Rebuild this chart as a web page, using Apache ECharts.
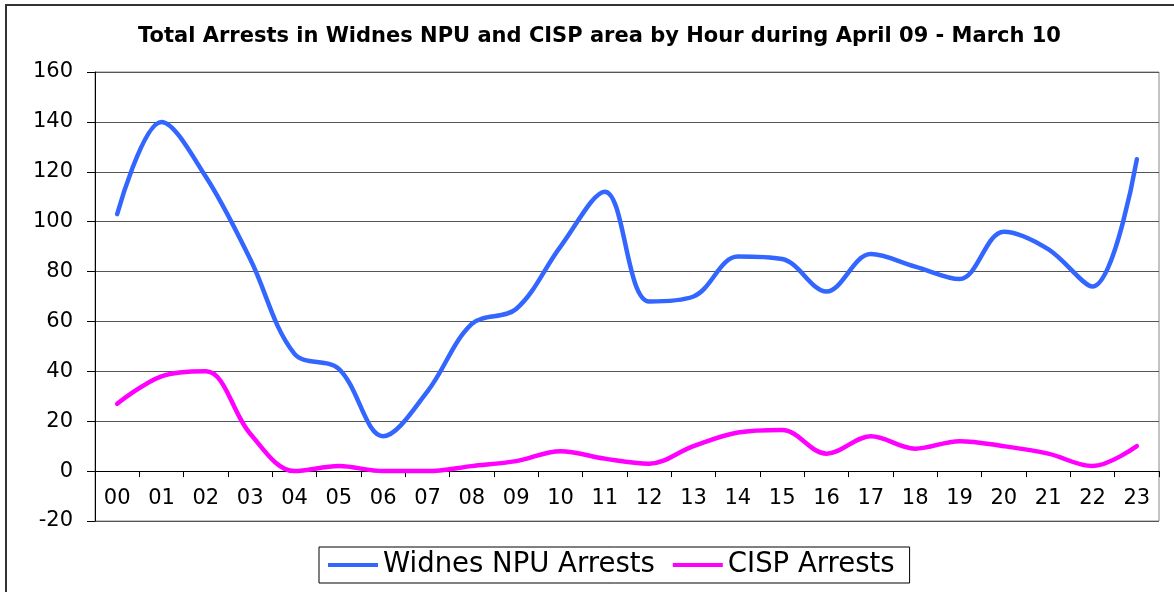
<!DOCTYPE html>
<html>
<head>
<meta charset="utf-8">
<script src="https://cdn.jsdelivr.net/npm/echarts@6/dist/echarts.min.js"></script>
<style>
  html, body { margin: 0; padding: 0; background: #fff; }
  #chart { width: 1174px; height: 592px; }
</style>
</head>
<body>
<div id="chart"></div>
<script>
// hours of the day
var hours = ['00', '01', '02', '03', '04', '05', '06', '07', '08', '09', '10', '11',
             '12', '13', '14', '15', '16', '17', '18', '19', '20', '21', '22', '23'];
// arrests per hour
var widnesArrests = [103, 140, 118, 85, 47, 41, 14, 32, 59, 65, 90, 112,
                     68, 70, 86, 85, 72, 87, 82, 77, 96, 89, 74, 125];
var cispArrests = [27, 38, 40, 15, 0, 2, 0, 0, 2, 4, 8, 5,
                   3, 10, 15.5, 16.5, 7, 14, 9, 12, 10, 7, 2, 10];
var seriesNames = ['Widnes NPU Arrests', 'CISP Arrests'];
var yTicks = { min: -20, max: 160, step: 20 };

var font = 'DejaVu Sans';
var chart = echarts.init(document.getElementById('chart'));

// plot box
var gridTop = 72, gridHeight = 449;
// the category axis sits on the zero line (Excel style)
var zeroOffset = -gridHeight * (0 - yTicks.min) / (yTicks.max - yTicks.min);

var option = {
    backgroundColor: '#fff',
    animation: false,
    title: {
        text: 'Total Arrests in Widnes NPU and CISP area by Hour during April 09 - March 10',
        left: 133,
        top: 21,
        textStyle: { fontFamily: font, fontSize: 21, fontWeight: 'bold', color: '#000' }
    },
    // chart area frame
    graphic: [{
        type: 'rect',
        shape: { x: 6, y: 5, width: 1300, height: 800 },
        style: { fill: 'none', stroke: '#333', lineWidth: 2 },
        silent: true
    }],
    legend: {
        data: seriesNames,
        left: 319,
        top: 547,
        icon: 'rect',
        itemWidth: 50,
        itemHeight: 4,
        itemGap: 18,
        padding: [4, 15, 4, 9],
        borderColor: '#000',
        borderWidth: 1,
        textStyle: { fontFamily: font, fontSize: 27.5, color: '#000' }
    },
    grid: {
        left: 95,
        top: gridTop,
        width: 1064,
        height: gridHeight,
        show: true,
        borderColor: '#888',
        borderWidth: 1
    },
    xAxis: {
        type: 'category',
        data: hours,
        boundaryGap: true,
        offset: zeroOffset,
        axisLine: { onZero: false, lineStyle: { color: '#000', width: 1 } },
        axisTick: { show: true, interval: 0, length: 6, lineStyle: { color: '#000' } },
        axisLabel: { interval: 0, margin: 17, fontFamily: font, fontSize: 21, color: '#000' },
        splitLine: { show: false }
    },
    yAxis: {
        type: 'value',
        min: yTicks.min,
        max: yTicks.max,
        interval: yTicks.step,
        axisLine: { show: true, lineStyle: { color: '#000', width: 1 } },
        axisTick: { show: true, length: 8, lineStyle: { color: '#000' } },
        axisLabel: { margin: 22, fontFamily: font, fontSize: 21, color: '#000' },
        splitLine: { show: true, lineStyle: { color: '#555', width: 1 } }
    },
    series: [
        {
            name: seriesNames[0],
            type: 'line',
            data: widnesArrests,
            smooth: 0.35,
            showSymbol: false,
            itemStyle: { color: '#3366FF' },
            lineStyle: { color: '#3366FF', width: 4.5, cap: 'round', join: 'round' }
        },
        {
            name: seriesNames[1],
            type: 'line',
            data: cispArrests,
            smooth: 0.35,
            showSymbol: false,
            itemStyle: { color: '#FF00FF' },
            lineStyle: { color: '#FF00FF', width: 4.5, cap: 'round', join: 'round' }
        }
    ]
};

chart.setOption(option);
</script>
</body>
</html>
